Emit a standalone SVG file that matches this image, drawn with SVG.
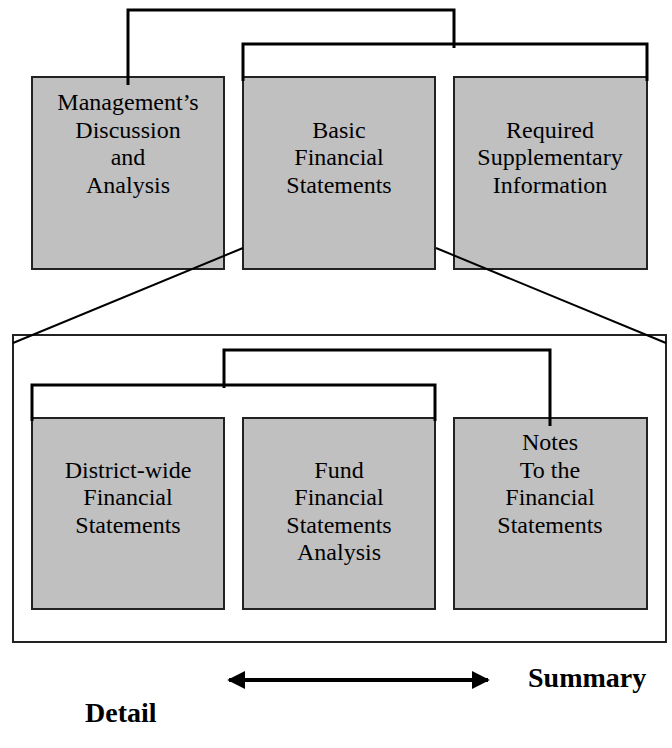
<svg xmlns="http://www.w3.org/2000/svg" width="672" height="748" viewBox="0 0 672 748">
<style>
.box{fill:#c0c0c0;stroke:#222;stroke-width:2}
.t{font-family:"Liberation Serif","Times New Roman",serif;font-size:24px;fill:#000;text-anchor:middle}
.b{font-family:"Liberation Serif","Times New Roman",serif;font-size:28px;font-weight:bold;fill:#000}
.con{fill:none;stroke:#000;stroke-width:3}
.diag{fill:none;stroke:#000;stroke-width:2}
</style>
<defs>
<marker id="ah" viewBox="0 0 10 10" refX="9" refY="5" markerWidth="4.5" markerHeight="4.5" markerUnits="strokeWidth" orient="auto-start-reverse">
<path d="M0 0 L10 5 L0 10 Z" fill="#000"/>
</marker>
</defs>
<rect id="outer" x="13" y="335" width="653" height="307" fill="none" stroke="#222" stroke-width="2"/>
<g id="mda"><rect class="box" x="32" y="77" width="192" height="192"/>
<text class="t" x="128" y="110">Management’s</text><text class="t" x="128" y="138">Discussion</text><text class="t" x="128" y="165">and</text><text class="t" x="128" y="193">Analysis</text></g>
<g id="bfs"><rect class="box" x="243" y="77" width="192" height="192"/>
<text class="t" x="339" y="138">Basic</text><text class="t" x="339" y="165">Financial</text><text class="t" x="339" y="193">Statements</text></g>
<g id="rsi"><rect class="box" x="454" y="77" width="193" height="192"/>
<text class="t" x="550" y="138">Required</text><text class="t" x="550" y="165">Supplementary</text><text class="t" x="550" y="193">Information</text></g>
<g id="dwfs"><rect class="box" x="32" y="418" width="192" height="191"/>
<text class="t" x="128" y="478">District-wide</text><text class="t" x="128" y="505">Financial</text><text class="t" x="128" y="533">Statements</text></g>
<g id="ffs"><rect class="box" x="243" y="418" width="192" height="191"/>
<text class="t" x="339" y="478">Fund</text><text class="t" x="339" y="505">Financial</text><text class="t" x="339" y="533">Statements</text><text class="t" x="339" y="560">Analysis</text></g>
<g id="notes"><rect class="box" x="454" y="418" width="193" height="191"/>
<text class="t" x="550" y="450">Notes</text><text class="t" x="550" y="478">To the</text><text class="t" x="550" y="505">Financial</text><text class="t" x="550" y="533">Statements</text></g>
<g id="connectors">
<path class="con" d="M128 85 V10 H454 V48"/>
<path class="con" d="M243 81 V44 H647 V81"/>
<path class="con" d="M224 388 V350 H550 V426"/>
<path class="con" d="M32 421 V385 H435 V421"/>
<path class="diag" d="M243 248 L13 343"/>
<path class="diag" d="M436 248 L666 343"/>
<line x1="229" y1="680" x2="488" y2="680" stroke="#000" stroke-width="4" marker-start="url(#ah)" marker-end="url(#ah)"/>
</g>
<text class="b" x="528" y="687">Summary</text>
<text class="b" x="85" y="722">Detail</text>
</svg>
